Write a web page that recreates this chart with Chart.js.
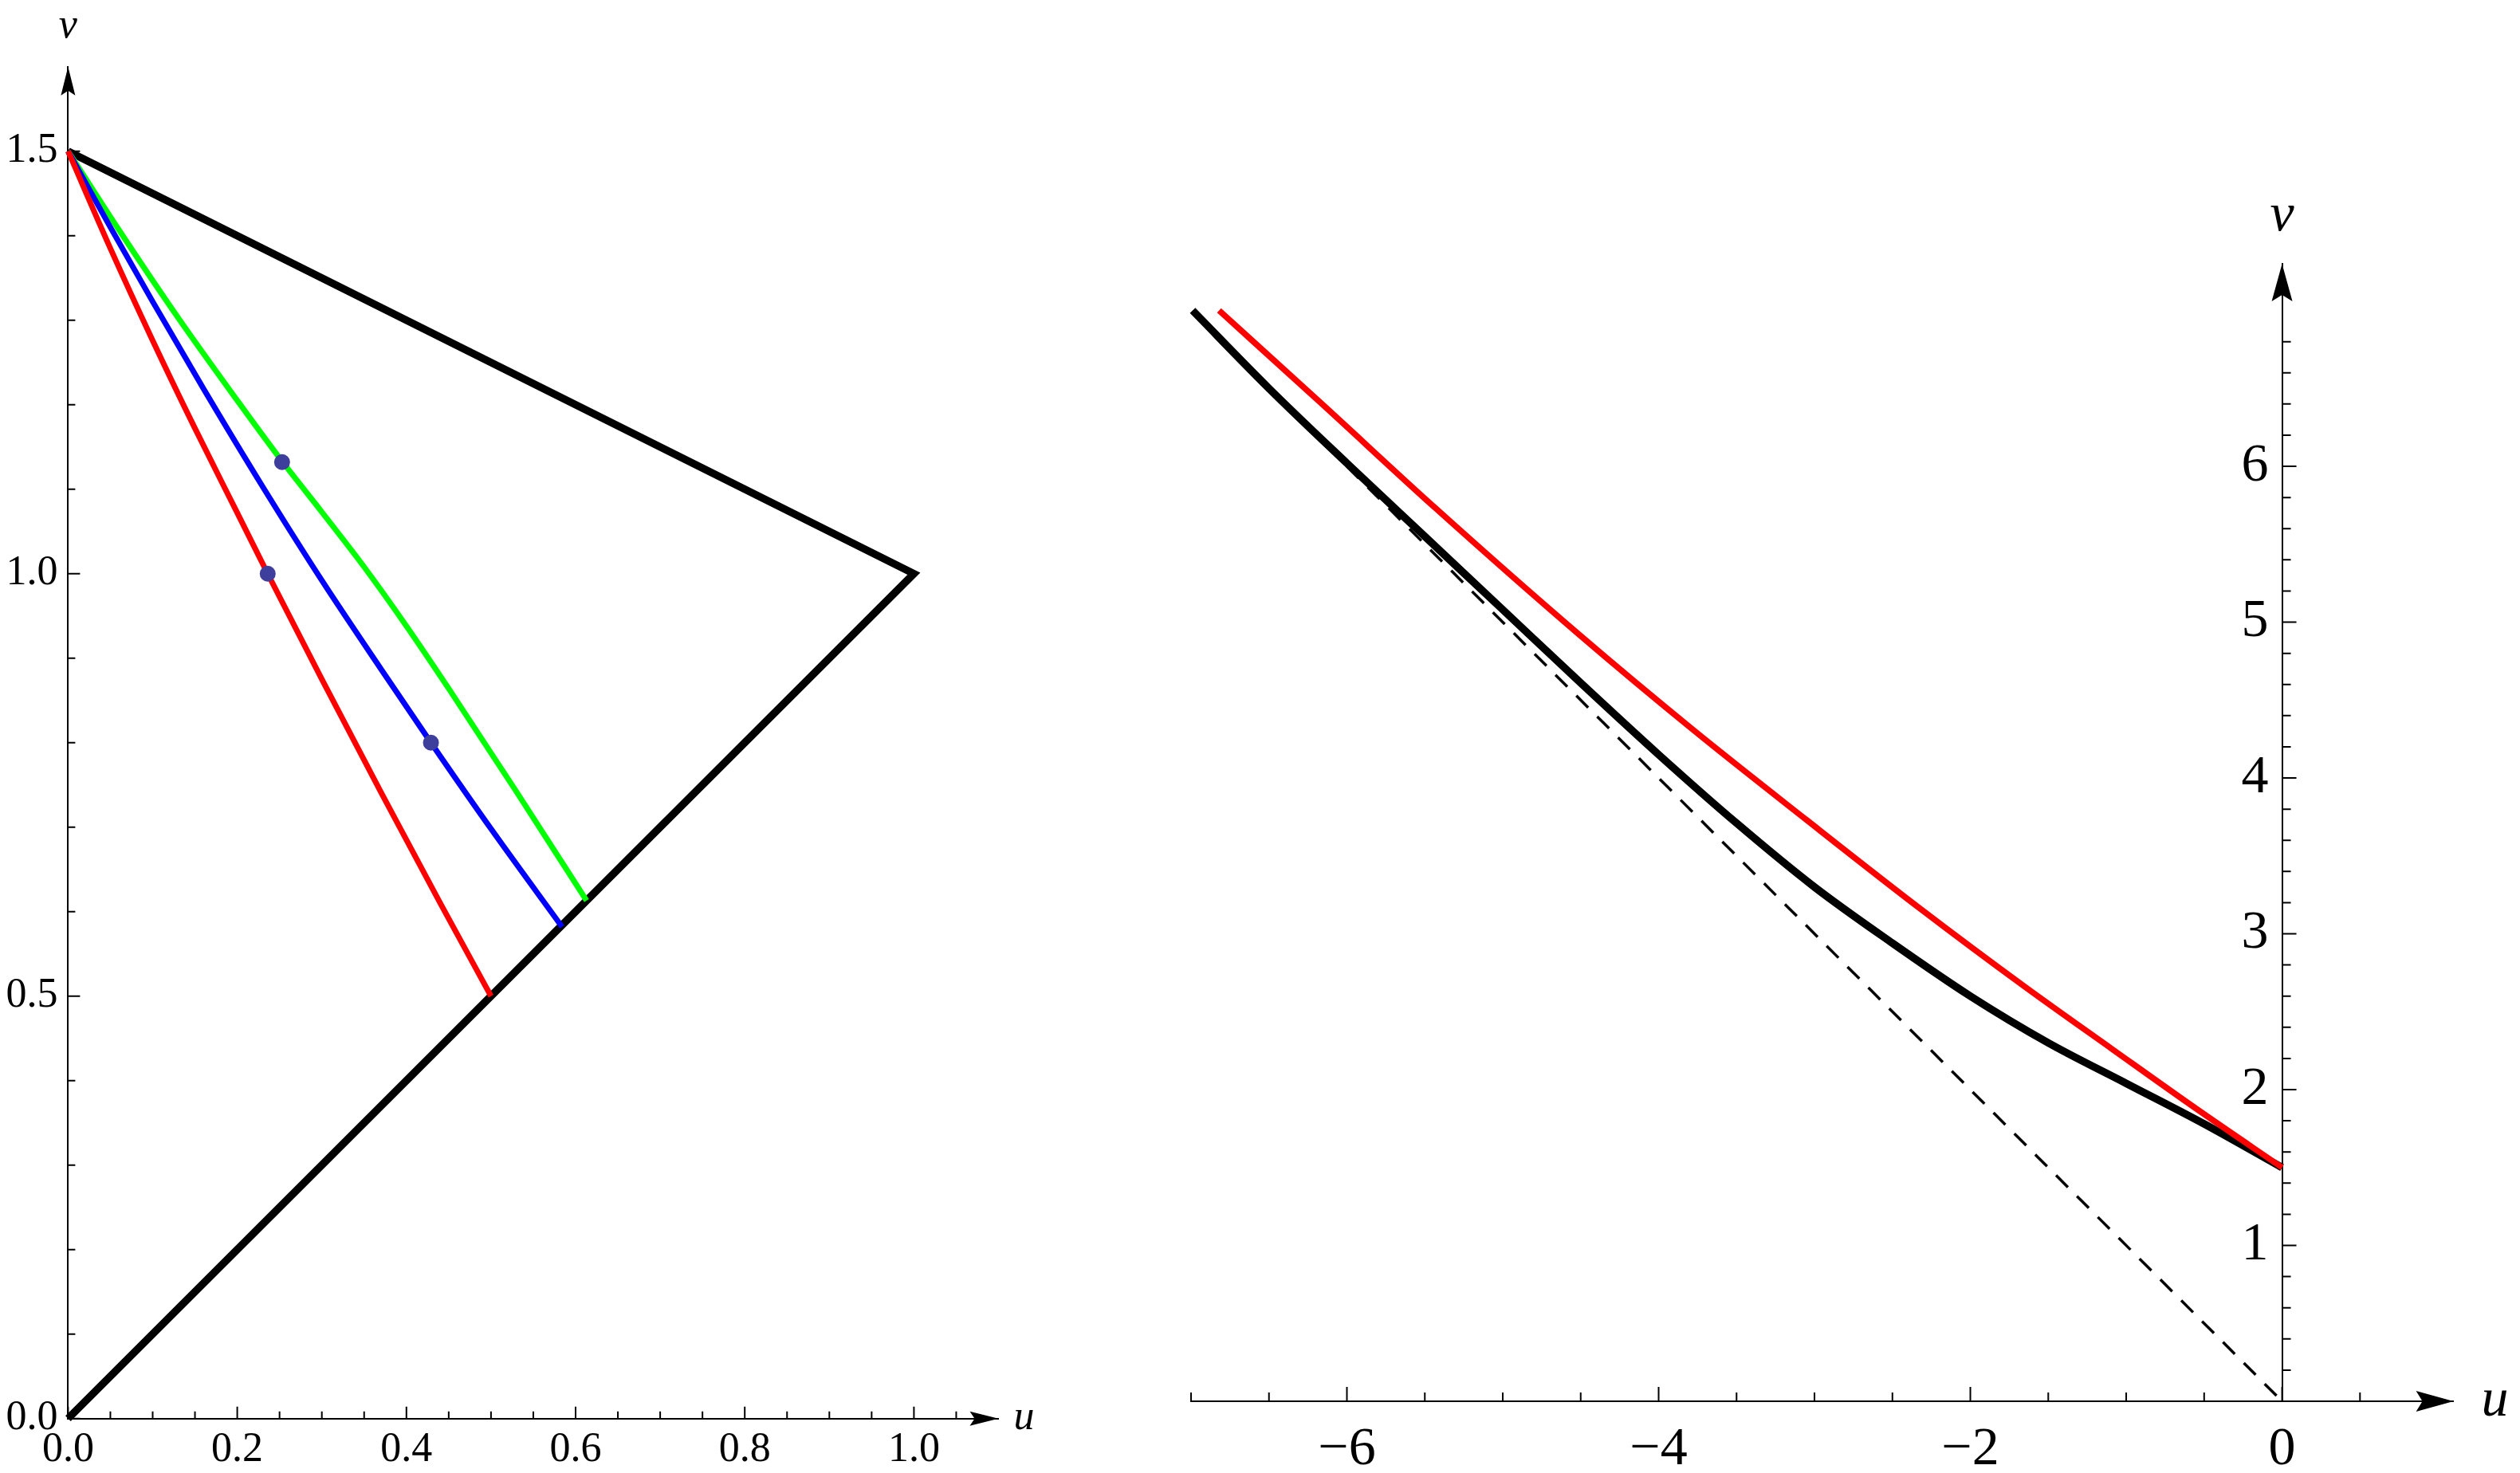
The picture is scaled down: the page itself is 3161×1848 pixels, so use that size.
<!DOCTYPE html>
<html>
<head>
<meta charset="utf-8">
<script src="https://cdn.jsdelivr.net/npm/chart.js@4.4.1/dist/chart.umd.min.js"></script>
<style>
  html, body { margin: 0; padding: 0; background: #fff; }
  body { width: 3161px; height: 1848px; position: relative; overflow: hidden; }
  .panel { position: absolute; top: 0; height: 1848px; }
  #left { left: 0; width: 1320px; }
  #right { left: 1400px; width: 1761px; }
</style>
</head>
<body>
<div class="panel" id="left"><canvas id="leftChart"></canvas></div>
<div class="panel" id="right"><canvas id="rightChart"></canvas></div>
<script>
// ---- left panel: triangle with three curves ----
const BOUNDARY_U = [0, 1, 0];
const BOUNDARY_V = [1.5, 1, 0];

const RED_U = [0, 0.05, 0.10, 0.15, 0.20, 0.236, 0.30, 0.37, 0.44, 0.50];
const RED_V = [1.5, 1.385, 1.276, 1.172, 1.072, 1.000, 0.875, 0.741, 0.610, 0.500];

const BLUE_U = [0, 0.05, 0.10, 0.16, 0.23, 0.30, 0.37, 0.429, 0.50, 0.584];
const BLUE_V = [1.5, 1.410, 1.322, 1.219, 1.103, 0.992, 0.887, 0.800, 0.698, 0.582];

const GREEN_U = [0, 0.06, 0.13, 0.20, 0.253, 0.30, 0.35, 0.40, 0.45, 0.53, 0.613];
const GREEN_V = [1.5, 1.407, 1.303, 1.205, 1.133, 1.073, 1.008, 0.938, 0.864, 0.742, 0.613];

const DOT_U = [0.236, 0.429, 0.253];
const DOT_V = [1.000, 0.800, 1.132];

// left axes
const L_U_MAJOR = [0, 0.2, 0.4, 0.6, 0.8, 1.0];
const L_U_LABELS = ["0.0", "0.2", "0.4", "0.6", "0.8", "1.0"];
const L_V_MAJOR = [0, 0.5, 1.0, 1.5];
const L_V_LABELS = ["0.0", "0.5", "1.0", "1.5"];

// ---- right panel: two curves and the asymptote ----
const R_RED_U = [-6.82, -6.16, -5.43, -4.51, -3.78, -3.05, -2.32, -1.65, -1.09, -0.54, 0];
const R_RED_V = [7.00, 6.40, 5.73, 4.92, 4.31, 3.73, 3.16, 2.66, 2.26, 1.87, 1.50];

const R_BLACK_U = [-6.99, -6.5, -6, -5.5, -5, -4.5, -4, -3.5, -3, -2.5, -2, -1.5, -1, -0.5, 0];
const R_BLACK_V = [7.00, 6.50, 6.02, 5.55, 5.08, 4.61, 4.15, 3.71, 3.30, 2.94, 2.60, 2.30, 2.04, 1.78, 1.50];

const R_DASH_U = [-6.0, 0];
const R_DASH_V = [6.0, 0];

// right axes
const R_U_MAJOR = [-6, -4, -2, 0];
const R_U_LABELS = ["\u22126", "\u22124", "\u22122", "0"];
const R_V_MAJOR = [1, 2, 3, 4, 5, 6];
const R_V_LABELS = ["1", "2", "3", "4", "5", "6"];

const AXIS_NAMES = ["u", "v"];

const zip = (us, vs) => us.map((u, i) => ({ x: u, y: vs[i] }));

// major ticks + evenly spaced minor ticks between from..to
function tickValues(major, step, from, to) {
    const vals = major.slice();
    const n = Math.round((to - from) / step);
    for (let i = 0; i <= n; i++) {
        const v = +(from + i * step).toFixed(4);
        if (!vals.some(m => Math.abs(m - v) < 1e-6)) vals.push(v);
    }
    return vals.sort((a, b) => a - b);
}

function labelFor(major, labels, suffix) {
    return function (value) {
        const i = major.findIndex(m => Math.abs(m - value) < 1e-6);
        return i < 0 ? "" : labels[i] + (suffix || "");
    };
}

function arrow(ctx, tx, ty, dx, dy, len, half, notch) {
    const nx = -dy, ny = dx;
    ctx.beginPath();
    ctx.moveTo(tx, ty);
    ctx.lineTo(tx - dx * len + nx * half, ty - dy * len + ny * half);
    ctx.lineTo(tx - dx * (len - notch), ty - dy * (len - notch));
    ctx.lineTo(tx - dx * len - nx * half, ty - dy * len - ny * half);
    ctx.closePath();
    ctx.fill();
}

// tick marks pointing into the plot, arrow heads and axis names
const axisDecor = {
    id: "axisDecor",
    beforeDatasetsDraw(chart, args, o) {
        const { ctx } = chart;
        const xs = chart.scales.x, ys = chart.scales.y;
        const x0 = xs.getPixelForValue(0), y0 = ys.getPixelForValue(0);
        ctx.save();
        ctx.strokeStyle = "#000";
        ctx.fillStyle = "#000";
        ctx.lineWidth = o.tickWidth;
        ctx.beginPath();
        xs.ticks.forEach(t => {
            const px = xs.getPixelForValue(t.value);
            ctx.moveTo(px, y0);
            ctx.lineTo(px, y0 - (t.label ? o.major : o.minor));
        });
        ys.ticks.forEach(t => {
            const py = ys.getPixelForValue(t.value);
            ctx.moveTo(x0, py);
            ctx.lineTo(x0 + (t.label ? o.major : o.minor), py);
        });
        ctx.stroke();
        arrow(ctx, xs.right, y0, 1, 0, o.arrowLen, o.arrowHalf, o.arrowNotch);
        arrow(ctx, x0, ys.top, 0, -1, o.arrowLen, o.arrowHalf, o.arrowNotch);
        ctx.font = "italic " + o.nameSize + "px 'Liberation Serif', serif";
        ctx.textAlign = "center";
        ctx.textBaseline = "middle";
        ctx.fillText(AXIS_NAMES[0], xs.right + o.uGap, y0);
        ctx.fillText(AXIS_NAMES[1], x0, ys.top - o.vGap);
        ctx.restore();
    }
};

function fixedWidth(w) { return s => { s.width = w; }; }
function fixedHeight(h) { return s => { s.height = h; }; }

Chart.defaults.font.family = "'Liberation Serif', serif";
Chart.defaults.color = "#000";

const lineBase = { showLine: true, pointRadius: 0, fill: false, clip: false, borderCapStyle: "butt" };

new Chart(document.getElementById("leftChart"), {
    type: "scatter",
    data: {
        datasets: [
            { data: zip(DOT_U, DOT_V), showLine: false, pointRadius: 10, pointBorderWidth: 0,
              pointBackgroundColor: "#3e3e9c", clip: false, order: 0 },
            { ...lineBase, data: zip(RED_U, RED_V), borderColor: "#ff0000", borderWidth: 7,
              cubicInterpolationMode: "monotone", order: 1 },
            { ...lineBase, data: zip(BLUE_U, BLUE_V), borderColor: "#0000ff", borderWidth: 7,
              cubicInterpolationMode: "monotone", order: 1 },
            { ...lineBase, data: zip(GREEN_U, GREEN_V), borderColor: "#00ff00", borderWidth: 7,
              cubicInterpolationMode: "monotone", order: 1 },
            { ...lineBase, data: zip(BOUNDARY_U, BOUNDARY_V), borderColor: "#000", borderWidth: 9.5,
              tension: 0, borderJoinStyle: "miter", order: 2 },
        ],
    },
    options: {
        responsive: true,
        maintainAspectRatio: false,
        animation: false,
        events: [],
        layout: { padding: { left: 0, top: 83.7, right: 67.5, bottom: 0 } },
        plugins: {
            legend: { display: false },
            tooltip: { enabled: false },
            axisDecor: { tickWidth: 2, major: 15, minor: 9, arrowLen: 36, arrowHalf: 9,
                         arrowNotch: 6, nameSize: 52, uGap: 32, vGap: 50 },
        },
        scales: {
            x: {
                type: "linear", min: 0, max: 1.1,
                afterBuildTicks: s => { s.ticks = tickValues(L_U_MAJOR, 0.05, 0.05, 1.05).map(v => ({ value: v })); },
                afterFit: fixedHeight(68.3),
                grid: { display: false, drawTicks: false },
                border: { display: true, color: "#000", width: 2 },
                ticks: { autoSkip: false, maxRotation: 0, padding: 8, font: { size: 52 },
                         callback: labelFor(L_U_MAJOR, L_U_LABELS) },
            },
            y: {
                type: "linear", min: 0, max: 1.6,
                afterBuildTicks: s => { s.ticks = tickValues(L_V_MAJOR, 0.1, 0.1, 1.4).map(v => ({ value: v })); },
                afterFit: fixedWidth(85.4),
                grid: { display: false, drawTicks: false },
                border: { display: true, color: "#000", width: 2 },
                ticks: { autoSkip: false, padding: 13, font: { size: 52 },
                         callback: labelFor(L_V_MAJOR, L_V_LABELS) },
            },
        },
    },
    plugins: [axisDecor],
});

new Chart(document.getElementById("rightChart"), {
    type: "scatter",
    data: {
        datasets: [
            { ...lineBase, data: zip(R_RED_U, R_RED_V), borderColor: "#ff0000", borderWidth: 7.5,
              cubicInterpolationMode: "monotone", order: 0 },
            { ...lineBase, data: zip(R_BLACK_U, R_BLACK_V), borderColor: "#000", borderWidth: 9.5,
              cubicInterpolationMode: "monotone", order: 1 },
            { ...lineBase, data: zip(R_DASH_U, R_DASH_V), borderColor: "#000", borderWidth: 3.5,
              borderDash: [21, 16], tension: 0, order: 2 },
        ],
    },
    options: {
        responsive: true,
        maintainAspectRatio: false,
        animation: false,
        events: [],
        layout: { padding: { left: 94, top: 330.9, right: 83.4, bottom: 0 } },
        plugins: {
            legend: { display: false },
            tooltip: { enabled: false },
            axisDecor: { tickWidth: 2, major: 18, minor: 11, arrowLen: 47, arrowHalf: 13,
                         arrowNotch: 8, nameSize: 68, uGap: 52, vGap: 60 },
        },
        scales: {
            x: {
                type: "linear", min: -7, max: 1.1,
                afterBuildTicks: s => { s.ticks = tickValues(R_U_MAJOR, 0.5, -7, 0.5).map(v => ({ value: v })); },
                afterFit: fixedHeight(90),
                grid: { display: false, drawTicks: false },
                border: { display: true, color: "#000", width: 2 },
                ticks: { autoSkip: false, maxRotation: 0, padding: 20, font: { size: 68 },
                         callback: labelFor(R_U_MAJOR, R_U_LABELS) },
            },
            y: {
                type: "linear", min: 0, max: 7.3,
                position: { x: 0 },
                afterBuildTicks: s => { s.ticks = tickValues(R_V_MAJOR, 0.2, 0.2, 6.8).map(v => ({ value: v })); },
                grid: { display: false, drawTicks: false },
                border: { display: true, color: "#000", width: 2 },
                // an axis placed at u = 0 ignores ticks.padding, so a space keeps labels off the line
                ticks: { autoSkip: false, font: { size: 68 },
                         callback: labelFor(R_V_MAJOR, R_V_LABELS, " ") },
            },
        },
    },
    plugins: [axisDecor],
});
</script>
</body>
</html>
